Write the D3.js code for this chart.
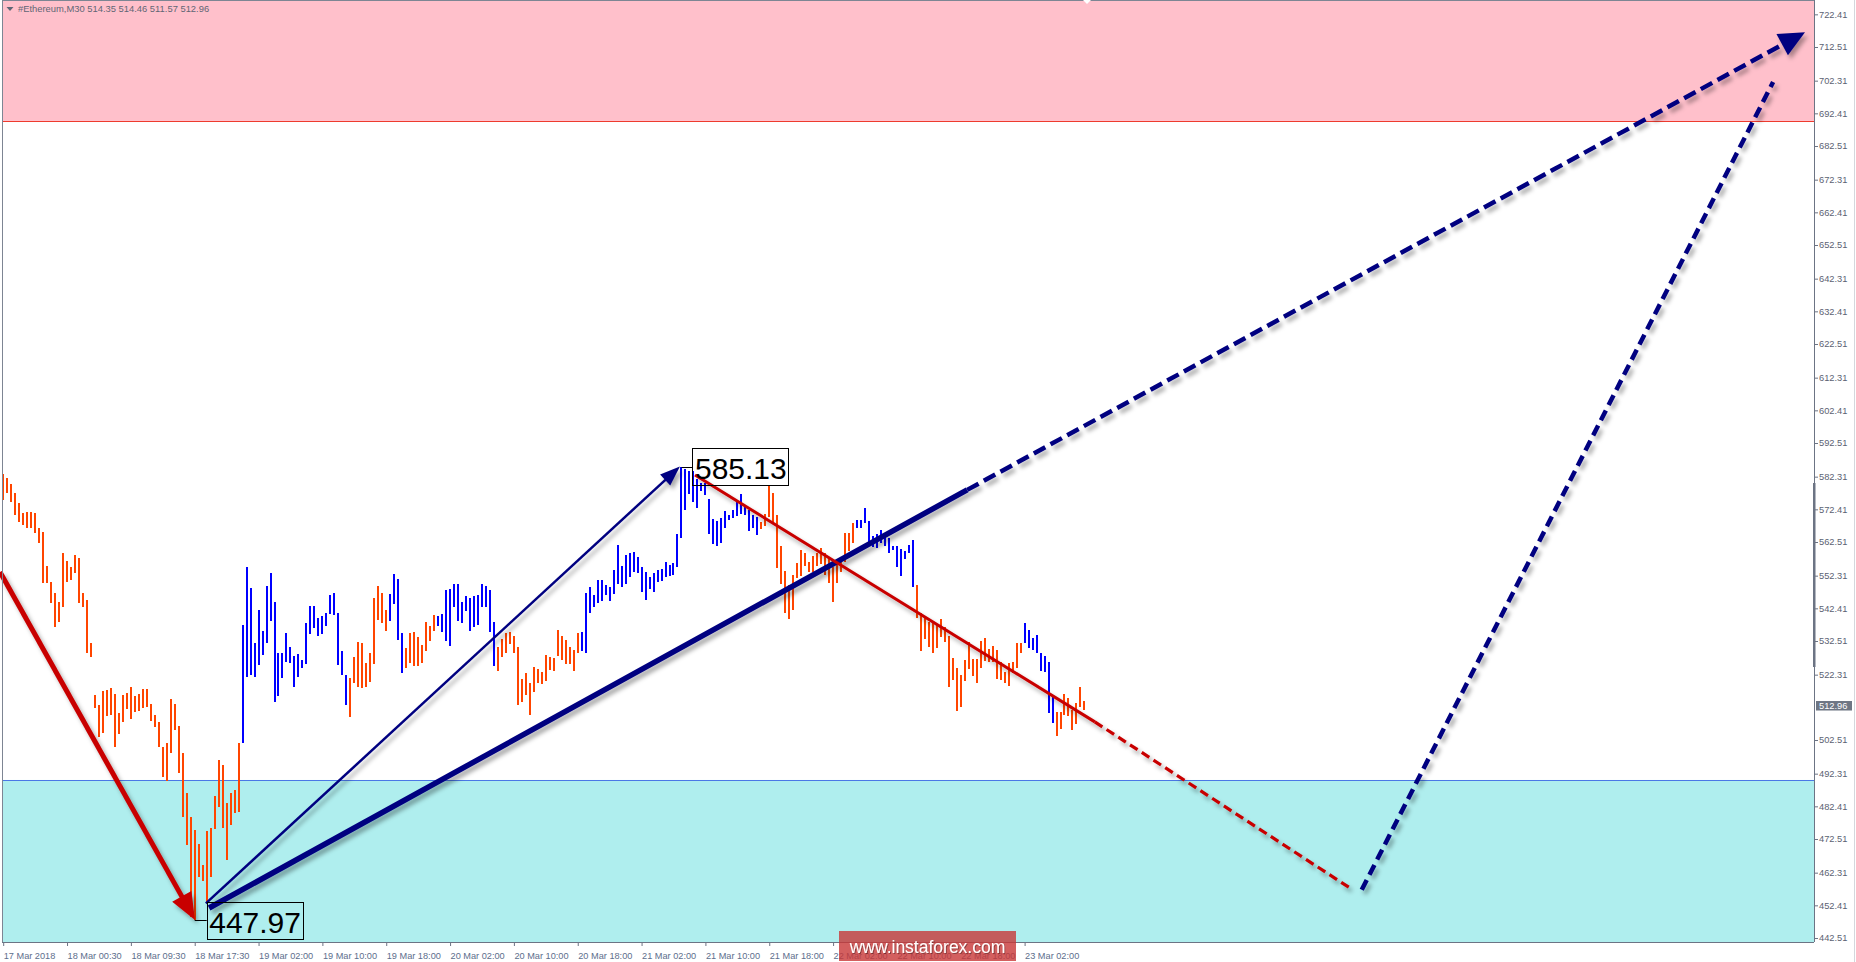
<!DOCTYPE html>
<html><head><meta charset="utf-8">
<script src="https://cdn.jsdelivr.net/npm/d3@7"></script>
<style>html,body{margin:0;padding:0;background:#fff;overflow:hidden}</style>
</head><body>
<svg id="c" width="1856" height="962"></svg>
<script>
// ---------- data ----------
const highs = [
583.1,581.8,580.1,577.3,574.2,571.2,571.5,571.7,571.4,566.7,
565.6,555.2,550.5,547.0,544.4,559.1,556.8,555.0,558.6,557.6,
547.0,544.9,531.8,516.1,513.1,517.5,517.7,518.2,516.6,510.6,
516.1,516.9,518.5,515.8,516.6,517.9,517.9,513.4,510.1,508.1,
500.3,501.7,514.8,513.3,506.8,498.5,486.6,479.1,475.2,471.0,
464.6,475.0,475.7,485.5,496.6,494.9,483.3,486.3,487.4,501.5,
537.4,554.8,548.7,532.0,541.9,535.5,549.3,553.0,544.2,528.8,
529.0,534.8,530.6,528.0,528.6,526.8,537.9,543.0,543.1,539.6,
540.1,540.9,546.5,547.0,540.9,529.5,522.2,521.2,527.6,532.3,
531.8,525.7,529.0,545.4,549.2,547.0,541.9,546.9,552.8,551.3,
535.0,530.3,534.8,535.1,533.8,531.3,538.2,537.1,540.4,540.1,
540.7,548.0,548.2,549.8,549.8,544.2,546.1,545.6,546.1,546.4,
549.8,549.3,548.0,538.4,530.6,533.0,535.0,535.1,534.0,530.8,
520.9,522.9,519.7,524.5,523.9,523.2,528.3,527.8,527.3,535.8,
534.0,532.8,530.8,529.8,535.0,535.3,547.2,549.0,546.4,551.0,
551.0,549.5,549.0,554.0,561.6,555.2,558.6,559.3,559.6,558.1,
555.0,553.5,552.0,553.0,554.0,554.2,556.4,555.5,556.0,564.9,
585.13,584.5,584.0,584.1,581.5,580.3,580.3,575.4,569.4,569.0,
569.7,572.0,570.7,572.2,574.7,577.1,573.7,572.2,570.7,570.0,
568.7,571.0,579.8,577.5,570.7,561.3,553.7,549.5,552.5,556.0,
560.1,559.1,556.5,558.3,559.1,560.6,559.3,558.1,555.0,556.5,
556.5,565.1,565.3,568.2,569.2,569.2,572.7,569.0,564.3,564.9,
566.1,564.6,563.6,561.3,561.3,560.3,559.9,561.6,563.1,549.5,
541.1,539.4,538.4,538.1,537.3,539.1,536.8,534.0,527.3,524.2,
522.2,526.8,532.3,527.0,527.0,532.6,533.3,530.2,531.0,529.8,
526.2,523.2,525.7,526.2,531.8,532.0,538.1,535.8,533.3,534.3,
528.8,527.9,526.1,515.8,511.1,511.1,516.6,515.1,511.6,513.6,
518.5,514.46];
const lows = [
575.2,577.3,574.7,570.7,568.7,567.7,566.7,566.7,565.3,562.1,
550.0,550.0,543.9,536.9,538.4,542.9,550.5,551.0,553.0,544.1,
542.9,528.8,527.8,512.1,503.5,504.7,509.8,510.1,500.5,504.3,
508.1,511.8,508.8,511.1,511.4,512.1,512.6,508.4,506.6,500.3,
491.4,490.2,498.5,505.5,492.6,479.1,470.7,449.0,447.97,461.1,
459.9,453.5,461.1,475.4,482.3,475.7,466.1,476.8,480.3,480.8,
501.5,521.7,522.2,521.5,525.2,528.3,531.8,538.7,513.9,515.8,
521.2,526.0,525.7,518.7,521.5,524.2,525.5,534.6,536.4,534.0,
534.6,537.2,540.7,540.4,525.2,522.2,513.1,509.6,519.9,518.7,
518.4,518.7,520.0,525.5,538.9,537.9,535.6,538.7,543.7,532.8,
522.9,524.4,525.9,524.9,524.9,525.7,529.6,532.6,535.6,537.1,
535.3,532.6,531.1,542.7,538.7,538.1,541.7,535.6,536.9,537.4,
542.7,542.7,535.3,525.0,523.5,527.7,529.0,531.6,529.0,513.1,
514.1,516.1,510.1,517.2,519.9,519.4,520.5,523.7,523.5,527.9,
526.9,525.5,525.5,523.5,528.8,529.6,528.9,540.9,542.9,543.9,
544.7,546.4,544.7,546.8,549.8,549.0,549.8,551.8,553.5,553.2,
547.5,544.9,548.2,547.5,550.5,550.8,552.0,552.2,552.5,554.8,
563.8,572.2,577.1,574.7,572.7,578.1,576.8,564.9,561.9,561.3,
562.3,566.9,569.2,569.7,570.4,571.0,570.7,565.9,566.9,564.6,
566.4,567.4,570.0,568.4,554.5,549.8,540.9,539.1,541.9,551.5,
552.2,555.2,553.5,553.5,555.2,555.8,552.5,550.0,544.4,550.0,
553.5,556.5,559.9,562.3,566.7,566.7,568.4,561.3,561.1,560.6,
562.3,561.3,559.3,560.1,554.8,552.2,557.3,559.1,549.0,539.4,
529.6,533.0,530.8,529.0,530.3,533.6,532.3,518.7,520.7,511.4,
512.4,520.5,524.0,522.0,519.9,524.2,526.3,526.0,526.0,520.9,
520.7,519.9,518.9,522.9,524.2,529.0,532.0,530.5,529.8,528.8,
523.5,523.2,510.6,507.8,503.7,505.7,510.1,509.8,505.5,507.4,
512.6,511.57];
// runs of bar colouring: [direction, number of bars]
const trendRuns = [["down",60],["up",27],["down",10],["up",4],["down",8],["up",15],
  ["down",21],["up",45],["down",24],["up",15],["down",27],["up",8],["down",8]];
const timeLabels = ["17 Mar 2018","18 Mar 00:30","18 Mar 09:30","18 Mar 17:30","19 Mar 02:00",
  "19 Mar 10:00","19 Mar 18:00","20 Mar 02:00","20 Mar 10:00","20 Mar 18:00","21 Mar 02:00",
  "21 Mar 10:00","21 Mar 18:00","22 Mar 02:00","22 Mar 10:00","22 Mar 18:00","23 Mar 02:00"];
const timeLabelBars = [0,16,32,48,64,80,96,112,128,144,160,176,192,208,224,240,256];
const priceTicks = [722.41,712.51,702.31,692.41,682.51,672.31,662.41,652.51,642.31,632.41,
  622.51,612.31,602.41,592.51,582.31,572.41,562.51,552.31,542.41,532.51,522.31,
  502.51,492.31,482.41,472.51,462.31,452.41,442.51];
const lastPrice = 512.96;
const headerText = "#Ethereum,M30  514.35 514.46 511.57 512.96";
const resistanceZone = [690.1, 727.0];
const supportZone = [441.2, 490.4];
const waveLow = {bar: 48, price: 447.97};
const waveHigh = {bar: 170, price: 585.13};
// wave lines in [bar index, price]
const redWave = [[-0.8, 553.4], [48.07, 447.97]];
const thinBlueWave = [[50.8, 453.0], [169.6, 585.4]];
const thickBlueSolid = [[51.6, 451.6], [241.6, 578.3]];
const thickBlueDashed = [[241.6, 578.3], [451.6, 717.0]];
const redSolid = [[173.4, 582.8], [273.6, 508.0]];
const redDashed = [[273.6, 508.0], [337.5, 457.7]];
const blueDashedUp = [[340.5, 457.1], [443.6, 701.9]];

// ---------- layout ----------
const L = 2, R = 1814, T = 0, B = 942;
const svg = d3.select("#c");
const x = d3.scaleLinear().domain([0, 256]).range([3.2, 1024.6]);
const y = d3.scaleLinear().domain([442.51, 722.41]).range([938, 14.33]);
const FONT = "'Liberation Sans', Arial, sans-serif";

const defs = svg.append("defs");
const f = defs.append("filter").attr("id","sh").attr("filterUnits","userSpaceOnUse")
  .attr("x",-50).attr("y",-50).attr("width",1956).attr("height",1062);
f.append("feDropShadow").attr("dx",3).attr("dy",4).attr("stdDeviation",2)
  .attr("flood-color","#000").attr("flood-opacity",0.33);
const fw = defs.append("filter").attr("id","tsh").attr("filterUnits","userSpaceOnUse")
  .attr("x",0).attr("y",0).attr("width",1856).attr("height",962);
fw.append("feDropShadow").attr("dx",1).attr("dy",1).attr("stdDeviation",0.6)
  .attr("flood-color","#000").attr("flood-opacity",0.35);
defs.append("clipPath").attr("id","plot").append("rect")
  .attr("x",L).attr("y",T).attr("width",R-L).attr("height",B-T);

svg.append("rect").attr("width",1856).attr("height",962).attr("fill","#fff");

// zones
const plot = svg.append("g").attr("clip-path","url(#plot)");
plot.append("rect").attr("x",L).attr("width",R-L)
  .attr("y",y(resistanceZone[1])).attr("height",y(resistanceZone[0])-y(resistanceZone[1]))
  .attr("fill","#ffc0cb");
plot.append("line").attr("x1",L).attr("x2",R).attr("y1",Math.round(y(resistanceZone[0]))+0.5)
  .attr("y2",Math.round(y(resistanceZone[0]))+0.5).attr("stroke","#ee3b2e").attr("stroke-width",1);
plot.append("rect").attr("x",L).attr("width",R-L)
  .attr("y",y(supportZone[1])).attr("height",y(supportZone[0])-y(supportZone[1]))
  .attr("fill","#afeeee");
plot.append("line").attr("x1",L).attr("x2",R).attr("y1",Math.round(y(supportZone[1]))+0.5)
  .attr("y2",Math.round(y(supportZone[1]))+0.5).attr("stroke","#4a78e6").attr("stroke-width",1);

// bar colours
const dirs = [];
trendRuns.forEach(([d,n]) => { for (let k=0;k<n;k++) dirs.push(d); });
const bars = highs.map((h,i) => ({i, h, l: lows[i], d: dirs[i]}));
plot.append("g").attr("shape-rendering","crispEdges").selectAll("rect").data(bars).join("rect")
  .attr("x", d => Math.round(x(d.i)) - 1)
  .attr("width", 2)
  .attr("y", d => y(d.h))
  .attr("height", d => Math.max(1, y(d.l) - y(d.h)))
  .attr("fill", d => d.d === "up" ? "#0000ff" : "#ff4500");

// wave drawings
const P = p => [x(p[0]), y(p[1])];
const waves = svg.append("g").attr("filter","url(#sh)");
function seg(pts, color, width, dash, headLen, headW) {
  let [a, b] = pts.map(P);
  const dx = b[0]-a[0], dy = b[1]-a[1], len = Math.hypot(dx,dy);
  const ux = dx/len, uy = dy/len;
  let end = b;
  if (headLen) end = [b[0]-ux*headLen*0.8, b[1]-uy*headLen*0.8];
  waves.append("line").attr("x1",a[0]).attr("y1",a[1]).attr("x2",end[0]).attr("y2",end[1])
    .attr("stroke",color).attr("stroke-width",width)
    .attr("stroke-dasharray",dash || null);
  if (headLen) {
    const bx = b[0]-ux*headLen, by = b[1]-uy*headLen;
    waves.append("path").attr("fill",color)
      .attr("d", `M${b[0]},${b[1]}L${bx-uy*headW},${by+ux*headW}L${bx+uy*headW},${by-ux*headW}Z`);
  }
}
seg(redWave, "#c80000", 5, null, 27, 11);
seg(thinBlueWave, "#000080", 2.5, null, 20, 7.5);
seg(thickBlueSolid, "#000080", 5.5, null, 0, 0);
seg(thickBlueDashed, "#000080", 4.5, "13,6", 26, 12);
seg(redSolid, "#c80000", 3, null, 0, 0);
seg(redDashed, "#c80000", 3.2, "9,5", 0, 0);
seg(blueDashedUp, "#000080", 4.5, "11,6", 0, 0);

// price labels for wave extremes
function priceBox(pt, offset, boxY) {
  const px = x(pt.bar), py = y(pt.price);
  const bx = px + offset, by = py + boxY;
  svg.append("line").attr("x1",px).attr("x2",bx).attr("y1",Math.round(py)+0.5).attr("y2",Math.round(py)+0.5)
    .attr("stroke","#000").attr("stroke-width",1);
  svg.append("rect").attr("x",Math.round(bx)+0.5).attr("y",Math.round(by)+0.5)
    .attr("width",96).attr("height",37).attr("fill","none").attr("stroke","#000").attr("stroke-width",1);
  svg.append("text").attr("x",bx+2.5).attr("y",by+31).attr("font-family",FONT)
    .attr("font-size",30).attr("fill","#000").text(pt.price.toFixed(2));
}
priceBox(waveHigh, 11, -19);
priceBox(waveLow, 12, -18);

// frame
svg.append("line").attr("x1",L+0.5).attr("x2",L+0.5).attr("y1",0).attr("y2",B).attr("stroke","#7d8593");
svg.append("line").attr("x1",L).attr("x2",R).attr("y1",0.5).attr("y2",0.5).attr("stroke","#7d8593");
svg.append("path").attr("d","M1083,0L1091,0L1087,4Z").attr("fill","#fff");

// header
svg.append("path").attr("d","M6.5,7L13.5,7L10,11Z").attr("fill","#5f6675");
svg.append("text").attr("x",18).attr("y",12).attr("font-family",FONT).attr("font-size",9.4)
  .attr("fill","#5f6675").text(headerText);

// y axis
const yAxis = d3.axisRight(y).tickValues(priceTicks).tickSize(4).tickPadding(1)
  .tickFormat(d3.format(".2f"));
const gy = svg.append("g").attr("transform",`translate(${R},0)`).call(yAxis);
gy.select(".domain").remove();
gy.selectAll("line").attr("stroke","#6c7484");
gy.selectAll("text").attr("font-family",FONT).attr("font-size",9.3).attr("fill","#5b6272");
svg.append("line").attr("x1",R+0.5).attr("x2",R+0.5).attr("y1",0).attr("y2",B).attr("stroke","#6c7484");
svg.append("rect").attr("x",R-1).attr("y",483).attr("width",2.5).attr("height",184).attr("fill","#6c7484");
svg.append("line").attr("x1",1854.5).attr("x2",1854.5).attr("y1",0).attr("y2",962).attr("stroke","#d4d7dc");
// last price marker
const lp = y(lastPrice);
svg.append("rect").attr("x",R+2).attr("y",lp-4.5).attr("width",36).attr("height",9.5).attr("fill","#6e7684");
svg.append("text").attr("x",R+5).attr("y",lp+3.3).attr("font-family",FONT).attr("font-size",9.3)
  .attr("fill","#fff").text(lastPrice.toFixed(2));

// x axis
const xAxis = d3.axisBottom(x).tickValues(timeLabelBars).tickSize(4).tickPadding(6)
  .tickFormat((d,i) => timeLabels[i]);
const gx = svg.append("g").attr("transform",`translate(0,${B})`).call(xAxis);
gx.select(".domain").remove();
gx.selectAll("line").attr("stroke","#6c7484");
gx.selectAll("text").attr("font-family",FONT).attr("font-size",9.2).attr("fill","#5d6e8c")
  .attr("text-anchor","start").attr("dx",0);
svg.append("line").attr("x1",L).attr("x2",R).attr("y1",B+0.5).attr("y2",B+0.5).attr("stroke","#6c7484");

// watermark
svg.append("rect").attr("x",839).attr("y",931).attr("width",177).attr("height",30)
  .attr("fill","rgb(200,55,55)").attr("fill-opacity",0.8);
svg.append("text").attr("x",927.5).attr("y",953).attr("text-anchor","middle").attr("font-family",FONT)
  .attr("font-size",17.5).attr("fill","#fff").attr("filter","url(#tsh)").text("www.instaforex.com");
</script>
</body></html>
